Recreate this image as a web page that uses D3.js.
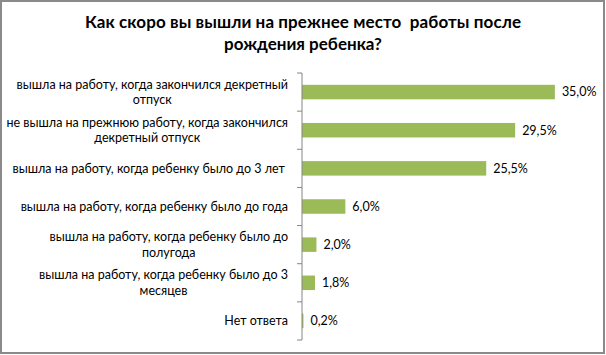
<!DOCTYPE html>
<html><head><meta charset="utf-8">
<script src="https://cdn.jsdelivr.net/npm/d3@7"></script>
<style>body{margin:0;background:#fff}svg{display:block}</style>
</head><body>
<svg id="c" width="606" height="355"></svg>
<script>
const titleLines = ["Как скоро вы вышли на прежнее место  работы после", "рождения ребенка?"];
const categories = [
  "вышла на работу, когда закончился декретный\nотпуск",
  "не вышла на прежнюю работу, когда закончился\nдекретный отпуск",
  "вышла на работу, когда ребенку было до 3 лет ",
  "вышла на работу, когда ребенку было до года",
  "вышла на работу, когда ребенку было до\nполугода",
  "вышла на работу, когда ребенку было до 3\nмесяцев",
  "Нет ответа"
];
const values = [35.0, 29.5, 25.5, 6.0, 2.0, 1.8, 0.2];
const valueLabels = ["35,0%", "29,5%", "25,5%", "6,0%", "2,0%", "1,8%", "0,2%"];

const svg = d3.select("#c");
const W = 606, H = 355;
const font = "Lato, 'Open Sans', sans-serif";

svg.append("rect").attr("x",1).attr("y",1).attr("width",W-3).attr("height",H-3)
  .attr("fill","#fff").attr("stroke","#8a8a8a").attr("stroke-width",2);

svg.append("g").selectAll("text").data(titleLines).join("text")
  .attr("x", 303).attr("y", (d,i)=>28 + i*22)
  .attr("text-anchor","middle").attr("font-family",font).attr("font-weight","bold")
  .attr("font-size",17).attr("fill","#000").style("white-space","pre")
  .attr("textLength",(d,i)=> i===0 ? 436 : null).attr("lengthAdjust","spacing")
  .text(d=>d);

const x0 = 302, y0 = 73, y1 = 340;
const x = d3.scaleLinear().domain([0, 40]).range([x0, x0 + 289]);
const y = d3.scaleBand().domain(categories).range([y0, y1]).paddingInner(0.62).paddingOuter(0.31);

svg.append("g").selectAll("rect").data(values).join("rect")
  .attr("x", x(0)).attr("y", (d,i)=>y(categories[i]))
  .attr("width", d=>x(d)-x(0)).attr("height", y.bandwidth())
  .attr("fill","#9BBB59");

const ax = svg.append("g").attr("transform",`translate(${x0},0)`)
  .call(d3.axisLeft(y).tickSize(5).tickFormat(""));
ax.selectAll(".tick").remove();
ax.select(".domain").attr("stroke","#868686").attr("d",`M0,${y0}V${y1}`);
const step = (y1 - y0) / categories.length;
ax.selectAll("line.tk").data(d3.range(categories.length + 1)).join("line")
  .attr("class","tk").attr("x1",-5).attr("x2",0)
  .attr("y1",i=>y0 + i*step).attr("y2",i=>y0 + i*step)
  .attr("stroke","#868686");

// value labels
svg.append("g").selectAll("text").data(values).join("text")
  .attr("x", d=>x(d)+7).attr("y", (d,i)=>y(categories[i]) + y.bandwidth()/2)
  .attr("dy","0.35em").attr("font-family",font).attr("font-size",12.5).attr("fill","#000")
  .text((d,i)=>valueLabels[i]);

// category labels
const labelRight = 288;
categories.forEach((c,i)=>{
  const lines = c.split("\n");
  const cy = y(c) + y.bandwidth()/2;
  const g = svg.append("g");
  const t = g.append("text").attr("font-family",font).attr("font-size",12.5).attr("fill","#000")
    .attr("text-anchor","middle").style("white-space","pre");
  lines.forEach((l,j)=>{
    t.append("tspan").attr("x",0).attr("y", cy + (j - (lines.length-1)/2)*15.5).attr("dy","0.35em").text(l);
  });
  const w = t.node().getBBox().width;
  t.attr("transform",`translate(${labelRight - w/2},0)`);
});
</script>
</body></html>
